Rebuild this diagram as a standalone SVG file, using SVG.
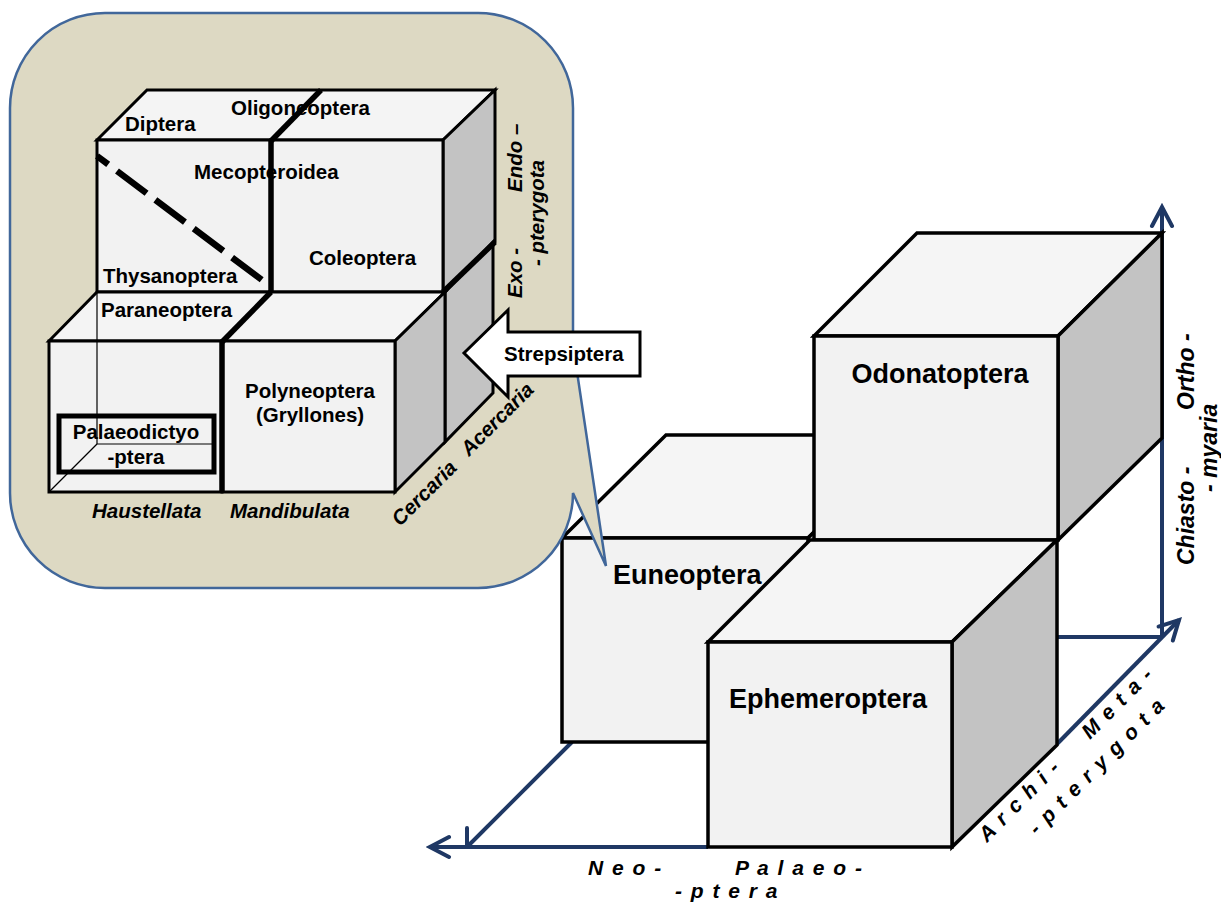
<svg xmlns="http://www.w3.org/2000/svg" width="1221" height="905" viewBox="0 0 1221 905">
<style>
text{font-family:"Liberation Sans",Arial,sans-serif;font-weight:bold;fill:#000}
.big{font-size:27px}
.lbl{font-size:20.5px}
.it{font-style:italic}
.ax{font-size:21px;font-style:italic;letter-spacing:1.5px}
.vx{font-size:23px;font-style:italic}
.front{fill:#F2F2F2;stroke:#000;stroke-width:3.5;stroke-linejoin:miter}
.top{fill:#F5F5F5;stroke:#000;stroke-width:3.5;stroke-linejoin:miter}
.side{fill:#C3C3C3;stroke:#000;stroke-width:3.5;stroke-linejoin:miter}
.ifront{fill:#F2F2F2;stroke:#000;stroke-width:3}
.itop{fill:#F4F4F4;stroke:#000;stroke-width:3}
.iside{fill:#C3C3C3;stroke:#000;stroke-width:3}
.thick{stroke:#000;stroke-width:5.5;fill:none}
.thin{stroke:#000;stroke-width:1.2;fill:none}
.axis{stroke:#1F3864;stroke-width:4;fill:none}
</style>
<defs>
<marker id="chev" markerUnits="userSpaceOnUse" viewBox="-24 -14 28 28" markerWidth="28" markerHeight="28" refX="0" refY="0" orient="auto">
<path d="M -19 -10 L 0 0 L -19 10" fill="none" stroke="#1F3864" stroke-width="4" stroke-linecap="round" stroke-linejoin="miter"/>
</marker>
</defs>
<g id="connectors">
<line class="axis" x1="708" y1="847" x2="430" y2="847" marker-end="url(#chev)"/>
<line class="axis" x1="572" y1="742" x2="468" y2="846"/>
<polyline class="axis" points="467,828 467,847 486,847" stroke-linecap="round"/>
<line class="axis" x1="1162" y1="637" x2="1162" y2="207" marker-end="url(#chev)"/>
<line class="axis" x1="1057" y1="637" x2="1162" y2="637"/>
<line class="axis" x1="1057" y1="744" x2="1179" y2="620" marker-end="url(#chev)"/>
</g>
<g id="node-euneoptera">
<polygon class="top" points="562,538 666,435 912,435 808,538"/>
<polygon class="side" points="808,538 912,435 912,640 808,742"/>
<polygon class="front" points="562,538 808,538 808,742 562,742"/>
<text class="big" x="613" y="584">Euneoptera</text>
</g>
<g id="node-odonatoptera">
<polygon class="top" points="814,336 917,233 1162,233 1058,336"/>
<polygon class="side" points="1058,336 1162,233 1162,438 1058,540"/>
<polygon class="front" points="814,336 1058,336 1058,540 814,540"/>
<text class="big" x="940" y="383" text-anchor="middle">Odonatoptera</text>
</g>
<g id="node-ephemeroptera">
<polygon class="top" points="708,642 810,540 1057,540 952,642"/>
<polygon class="side" points="952,642 1057,540 1057,745 952,847"/>
<polygon class="front" points="708,642 952,642 952,847 708,847"/>
<text class="big" x="828" y="708" text-anchor="middle">Ephemeroptera</text>
</g>
<g id="axis-labels">
<text class="ax" x="588" y="875">N e o -</text>
<text class="ax" x="735" y="875">P a l a e o -</text>
<text class="ax" x="675" y="898">- p t e r a</text>
<text class="ax" transform="translate(987,843) rotate(-45)">A r c h i -</text>
<text class="ax" transform="translate(1090,740) rotate(-45)">M e t a -</text>
<text class="ax" transform="translate(1037,836) rotate(-45)">- p t e r y g o t a</text>
<text class="vx" transform="translate(1194,410) rotate(-90)">Ortho -</text>
<text class="vx" transform="translate(1194,565) rotate(-90)">Chiasto -</text>
<text class="vx" transform="translate(1217,492) rotate(-90)">- myaria</text>
</g>
<g id="inset">
<path d="M 105,13 H 478 A 95 95 0 0 1 573,108 V 345 L 606,566 L 573,493 A 95 95 0 0 1 478,588 H 105 A 95 95 0 0 1 10,493 V 108 A 95 95 0 0 1 105,13 Z" fill="#DDD9C3" stroke="#41679A" stroke-width="2.5"/>
<g id="inset-upper">
<polygon class="itop" points="97,140 147,90 495,90 443,140"/>
<polygon class="iside" points="443,140 495,90 495,242 443,292"/>
<rect class="ifront" x="97" y="140" width="174" height="152"/>
<rect class="ifront" x="271" y="140" width="172" height="152"/>
<line class="thick" x1="271" y1="140" x2="271" y2="292"/>
<line class="thick" x1="271" y1="141" x2="321" y2="90"/>
<line x1="97" y1="156" x2="262" y2="280" stroke="#000" stroke-width="6.5" stroke-dasharray="37 11" stroke-dashoffset="23"/>
</g>
<g id="inset-lower">
<polygon class="iside" points="445,292 493,242 493,393 445,442"/>
<polygon class="itop" points="49,341 97,292 445,292 395,341"/>
<polygon class="iside" points="395,341 445,292 445,442 395,492"/>
<rect class="ifront" x="49" y="341" width="173" height="151"/>
<rect class="ifront" x="222" y="341" width="173" height="151"/>
<line class="thick" x1="222" y1="341" x2="222" y2="492"/>
<line class="thick" x1="222" y1="342" x2="271" y2="292"/>
<line class="thick" x1="443" y1="292" x2="495" y2="242"/>
<polyline class="thin" points="97,292 97,444 216,444"/>
<line class="thin" x1="97" y1="444" x2="49" y2="492"/>
<rect x="59" y="416" width="155" height="56" fill="none" stroke="#000" stroke-width="5"/>
</g>
<g id="inset-labels">
<text class="lbl" x="125" y="131">Diptera</text>
<text class="lbl" x="231" y="115">Oligoneoptera</text>
<text class="lbl" x="194" y="179">Mecopteroidea</text>
<text class="lbl" x="309" y="265">Coleoptera</text>
<text class="lbl" x="103" y="283">Thysanoptera</text>
<text class="lbl" x="101" y="317">Paraneoptera</text>
<text class="lbl" x="310" y="398" text-anchor="middle">Polyneoptera</text>
<text class="lbl" x="310" y="422" text-anchor="middle">(Gryllones)</text>
<text class="lbl" x="136" y="439" text-anchor="middle">Palaeodictyo</text>
<text class="lbl" x="136" y="464" text-anchor="middle">-ptera</text>
<text class="lbl it" x="92" y="518">Haustellata</text>
<text class="lbl it" x="230" y="518">Mandibulata</text>
<text class="lbl it" transform="translate(400,527) rotate(-45)">Cercaria</text>
<text class="lbl it" transform="translate(469,457) rotate(-45)">Acercaria</text>
<text class="lbl it" transform="translate(522,192) rotate(-90)">Endo –</text>
<text class="lbl it" transform="translate(522,298) rotate(-90)">Exo -</text>
<text class="lbl it" transform="translate(544,266) rotate(-90)">- pterygota</text>
</g>
<g id="node-strepsiptera">
<polygon points="464,353 508,310 508,332 640,332 640,376 508,376 508,397" fill="#fff" stroke="#000" stroke-width="3"/>
<text class="lbl" x="504" y="361">Strepsiptera</text>
</g>
</g>
</svg>
